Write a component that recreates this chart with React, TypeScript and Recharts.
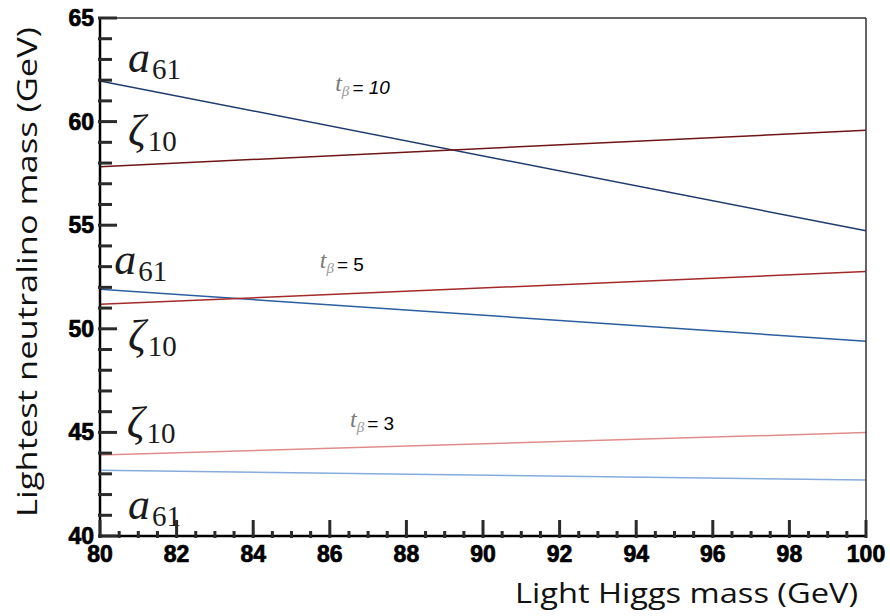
import { LineChart, Line, XAxis, YAxis, ReferenceDot } from "recharts";

// light Higgs mass (GeV) at the two ends of each curve
const higgsMass = [80, 100];

// lightest neutralino mass (GeV)
const a61Tb10 = [61.96, 54.73];
const zeta10Tb10 = [57.82, 59.58];
const a61Tb5 = [51.91, 49.4];
const zeta10Tb5 = [51.18, 52.76];
const zeta10Tb3 = [43.91, 44.99];
const a61Tb3 = [43.17, 42.7];

const xMajorTicks = [80, 82, 84, 86, 88, 90, 92, 94, 96, 98, 100];
const yMajorTicks = [40, 45, 50, 55, 60, 65];
const xTicks = Array.from({ length: 41 }, (_, i) => 80 + i * 0.5);
const yTicks = Array.from({ length: 26 }, (_, i) => 40 + i);

const data = higgsMass.map((m, i) => ({
  m,
  a61Tb10: a61Tb10[i],
  zeta10Tb10: zeta10Tb10[i],
  a61Tb5: a61Tb5[i],
  zeta10Tb5: zeta10Tb5[i],
  zeta10Tb3: zeta10Tb3[i],
  a61Tb3: a61Tb3[i],
}));

const series = [
  { key: "a61Tb10", color: "#1f3b6b" },
  { key: "zeta10Tb10", color: "#6e1616" },
  { key: "a61Tb5", color: "#2b5e9e" },
  { key: "zeta10Tb5", color: "#a32a2a" },
  { key: "zeta10Tb3", color: "#e08c8c" },
  { key: "a61Tb3", color: "#86acdc" },
];

// labels placed in data coordinates (baseline-left)
const curveLabels = [
  { sym: "a", sub: "61", x: 80.73, y: 62.4 },
  { sym: "ζ", sub: "10", x: 80.73, y: 58.85 },
  { sym: "a", sub: "61", x: 80.37, y: 52.64 },
  { sym: "ζ", sub: "10", x: 80.73, y: 49.0 },
  { sym: "ζ", sub: "10", x: 80.7, y: 44.8 },
  { sym: "a", sub: "61", x: 80.73, y: 40.82 },
];

const tbLabels = [
  { value: "10", x: 86.14, y: 61.5, italic: true },
  { value: "5", x: 85.74, y: 52.95, italic: false },
  { value: "3", x: 86.53, y: 45.26, italic: false },
];

const tickFont = {
  fontFamily: "Liberation Sans, Arial",
  fontWeight: 700,
  fontSize: 23,
  fill: "#000",
  stroke: "#000",
  strokeWidth: 0.7,
};
const titleFont = { fontFamily: "Open Sans, sans-serif", fontSize: 28, fill: "#111" };
const tickColor = "#2a2a2a";

// tick marks point into the plot, ROOT style
const XTick = ({ x, y, payload }: any) => {
  const major = xMajorTicks.includes(payload.value);
  const len = major ? 16 : 5;
  return (
    <g>
      <rect x={x - 1.5} y={y - len} width={3} height={len + 2} fill={tickColor} />
      {major && (
        <text x={x} y={y + 26} textAnchor="middle" {...tickFont}>
          {payload.value}
        </text>
      )}
    </g>
  );
};

const YTick = ({ x, y, payload }: any) => {
  const major = yMajorTicks.includes(payload.value);
  const len = major ? 17 : 12;
  return (
    <g>
      <rect x={x - 2} y={y - 1.5} width={len + 2} height={3} fill={tickColor} />
      {major && (
        <text x={x - 6} y={y + 8} textAnchor="end" {...tickFont}>
          {payload.value}
        </text>
      )}
    </g>
  );
};

const CurveLabel = ({ cx, cy, sym, sub }: any) => (
  <text x={cx} y={cy} fontFamily="Liberation Serif" fill="#1a1a1a">
    <tspan fontStyle="italic" fontSize={44}>
      {sym}
    </tspan>
    <tspan fontSize={29} dy={sym === "a" ? 7 : 6} dx={2}>
      {sub}
    </tspan>
  </text>
);

const TbLabel = ({ cx, cy, value, italic }: any) => (
  <text x={cx} y={cy}>
    <tspan fontFamily="Liberation Serif" fontStyle="italic" fontSize={24} fill="#7a7a7a">
      t
    </tspan>
    <tspan fontFamily="Liberation Serif" fontStyle="italic" fontSize={15} fill="#9a9a9a" dy={5}>
      β
    </tspan>
    <tspan
      fontFamily="Liberation Sans, Arial"
      fontSize={19}
      fill="#000"
      dy={-2}
      dx={3}
      fontStyle={italic ? "italic" : "normal"}
    >
      {"= " + value}
    </tspan>
  </text>
);

export default function App() {
  return (
    <div style={{ position: "absolute", left: 0, top: 0, background: "#fff" }}>
      <LineChart width={890} height={616} data={data} margin={{ top: 17, right: 23, left: 40, bottom: 50 }}>
        <XAxis
          dataKey="m"
          type="number"
          domain={[80, 100]}
          ticks={xTicks}
          interval={0}
          tickSize={0}
          tickMargin={0}
          height={30}
          axisLine={{ stroke: "#000", strokeWidth: 2.5 }}
          tick={<XTick />}
          label={{
            content: () => (
              <text x={858} y={603} textAnchor="end" textLength={343} lengthAdjust="spacingAndGlyphs" {...titleFont}>
                Light Higgs mass (GeV)
              </text>
            ),
          }}
        />
        <XAxis
          xAxisId="top"
          dataKey="m"
          type="number"
          orientation="top"
          domain={[80, 100]}
          height={1}
          tick={false}
          tickLine={false}
          axisLine={{ stroke: "#333", strokeWidth: 1.5 }}
        />
        <YAxis
          type="number"
          domain={[40, 65]}
          ticks={yTicks}
          interval={0}
          tickSize={0}
          tickMargin={0}
          width={60}
          axisLine={{ stroke: "#000", strokeWidth: 2.5 }}
          tick={<YTick />}
          label={{
            content: () => (
              <text
                x={37}
                y={272}
                textAnchor="middle"
                transform="rotate(-90 37 272)"
                textLength={490}
                lengthAdjust="spacingAndGlyphs"
                {...titleFont}
              >
                Lightest neutralino mass (GeV)
              </text>
            ),
          }}
        />
        <YAxis
          yAxisId="right"
          orientation="right"
          type="number"
          domain={[40, 65]}
          width={1}
          tick={false}
          tickLine={false}
          axisLine={{ stroke: "#333", strokeWidth: 1.5 }}
        />
        {series.map((s) => (
          <Line
            key={s.key}
            dataKey={s.key}
            type="linear"
            stroke={s.color}
            strokeWidth={1.5}
            dot={false}
            activeDot={false}
            isAnimationActive={false}
          />
        ))}
        {curveLabels.map((l, i) => (
          <ReferenceDot key={"c" + i} x={l.x} y={l.y} r={0} shape={(p: any) => <CurveLabel {...p} sym={l.sym} sub={l.sub} />} />
        ))}
        {tbLabels.map((l, i) => (
          <ReferenceDot key={"t" + i} x={l.x} y={l.y} r={0} shape={(p: any) => <TbLabel {...p} value={l.value} italic={l.italic} />} />
        ))}
      </LineChart>
    </div>
  );
}
